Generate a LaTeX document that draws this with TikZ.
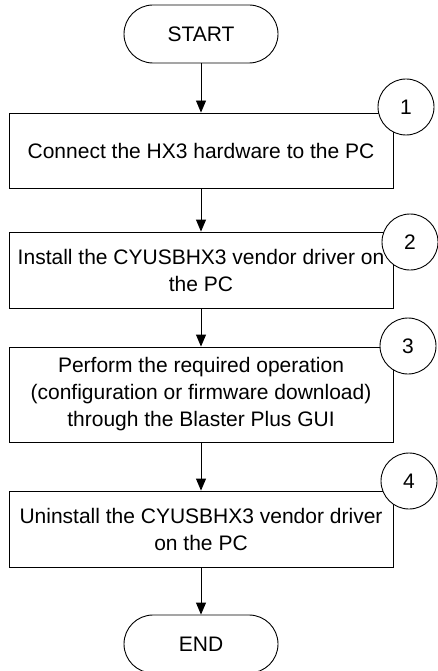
\documentclass[tikz,border=0pt]{standalone}
\usepackage{fontspec}
\setmainfont{Liberation Sans}
\usetikzlibrary{arrows.meta}
\tikzset{
  terminal/.style={draw,rounded corners=29pt,minimum width=154pt,minimum height=58pt,line width=0.9pt,inner sep=0pt},
  caja/.style={draw,minimum width=384pt,line width=0.9pt,align=center,inner sep=0pt},
  marca/.style={circle,draw,fill=white,minimum size=56pt,line width=0.9pt,inner sep=0pt},
  flecha/.style={-{Triangle[length=12pt,width=10pt]},line width=0.9pt},
}

\begin{document}
\begin{tikzpicture}[x=1pt,y=-1pt,font=\fontsize{21}{27}\selectfont]
\useasboundingbox (0,0) rectangle (438,671);
\clip (0,0) rectangle (438,671);
\node[terminal] (inicio) at (201,34) {START};
\node[caja,minimum height=75pt] (paso1) at (201,150.5) {Connect the HX3 hardware to the PC};
\node[caja,minimum height=76pt] (paso2) at (201,270) {Install the CYUSBHX3 vendor driver on\\the PC};
\node[caja,minimum height=95pt] (paso3) at (201,394.5) {Perform the required operation\\(configuration or firmware download)\\through the Blaster Plus GUI};
\node[caja,minimum height=76pt] (paso4) at (201,529) {Uninstall the CYUSBHX3 vendor driver\\on the PC};
\node[terminal] (fin) at (201,644) {END};
\draw[flecha] (inicio) -- (paso1);
\draw[flecha] (paso1) -- (paso2);
\draw[flecha] (paso2) -- (paso3);
\draw[flecha] (paso3) -- (paso4);
\draw[flecha] (paso4) -- (fin);
\node[marca] (m1) at (406,107) {1};
\node[marca] (m2) at (410,242) {2};
\node[marca] (m3) at (408,346) {3};
\node[marca] (m4) at (409,481) {4};
\end{tikzpicture}
\end{document}
